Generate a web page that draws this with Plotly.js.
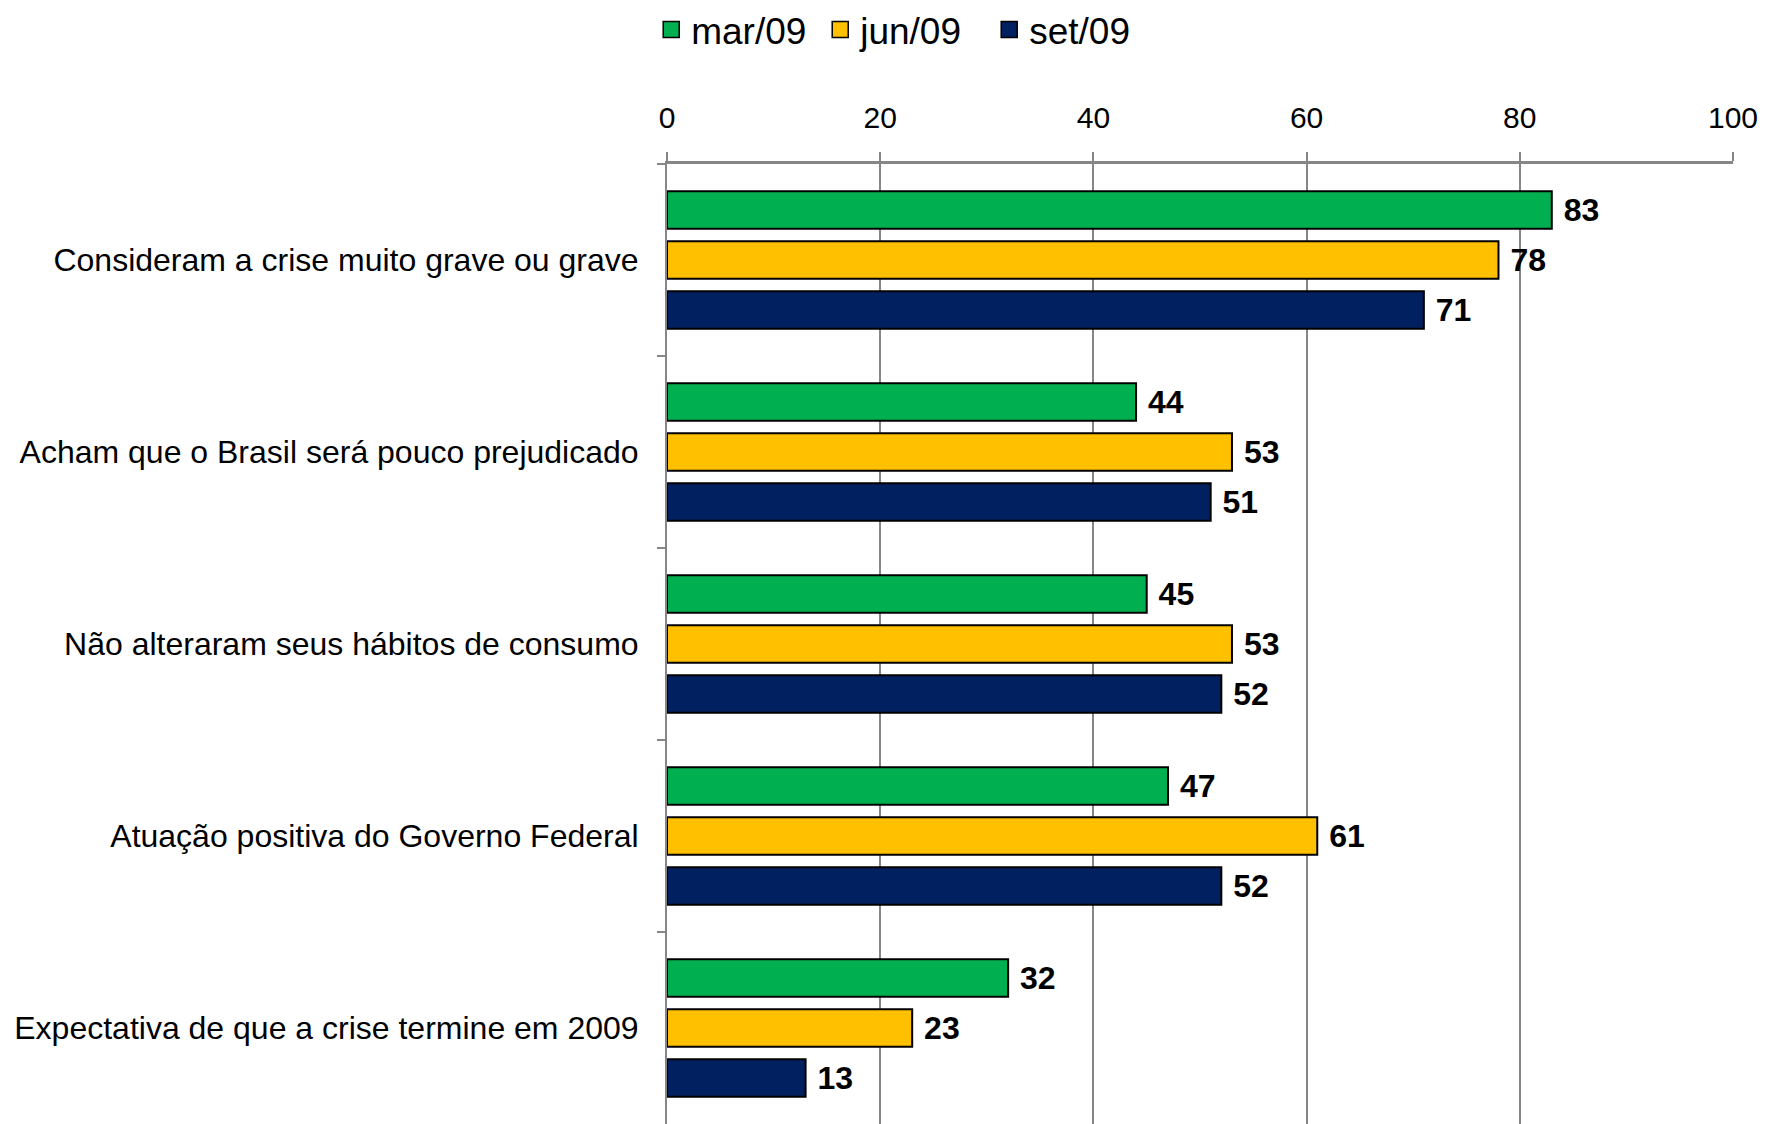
<!DOCTYPE html>
<html>
<head>
<meta charset="utf-8">
<script src="https://cdn.plot.ly/plotly-3.0.1.min.js"></script>
<style>html,body{margin:0;padding:0;background:#fff;}</style>
</head>
<body>
<div id="chart" style="width:1765px;height:1124px;"></div>
<script>
const categories = [
  "Consideram a crise muito grave ou grave",
  "Acham que o Brasil será pouco prejudicado",
  "Não alteraram seus hábitos de consumo",
  "Atuação positiva do Governo Federal",
  "Expectativa de que a crise termine em 2009"
];
const seriesNames = ["mar/09", "jun/09", "set/09"];
const mar09 = [83, 44, 45, 47, 32];
const jun09 = [78, 53, 53, 61, 23];
const set09 = [71, 51, 52, 52, 13];
const xTicks = [0, 20, 40, 60, 80, 100];

const FONT = '"Liberation Sans", Arial, sans-serif';
const colors = ["#00B050", "#FFC000", "#002060"];
const values = [mar09, jun09, set09];

const traces = values.map((v, i) => ({
  type: 'bar',
  orientation: 'h',
  name: seriesNames[i],
  x: v,
  y: categories,
  showlegend: false,
  marker: {color: colors[i], line: {color: '#000000', width: 2}},
  texttemplate: '\u00a0%{x}',
  textposition: 'outside',
  constraintext: 'none',
  cliponaxis: false,
  textfont: {family: FONT, size: 32, color: '#000000', weight: 'bold'},
  hoverinfo: 'skip'
}));

// legend-only entries (no visible points) to get larger legend squares
seriesNames.forEach((n, i) => {
  traces.push({
    type: 'scatter',
    mode: 'markers',
    name: n,
    x: [null],
    y: [null],
    showlegend: true,
    marker: {symbol: 'square', size: 20, color: colors[i], line: {color: '#000000', width: 1.5}},
    hoverinfo: 'skip'
  });
});

const layout = {
  width: 1765,
  height: 1124,
  margin: {l: 667, r: 32, t: 164, b: 0},
  paper_bgcolor: '#ffffff',
  plot_bgcolor: '#ffffff',
  barmode: 'group',
  bargap: 0.22,
  bargroupgap: 0.25,
  font: {family: FONT, color: '#000000', size: 30},
  showlegend: true,
  legend: {
    orientation: 'h',
    x: 0.223, xanchor: 'center',
    y: 1 - 30/1124, yref: 'container', yanchor: 'middle',
    font: {family: FONT, size: 37, color: '#000000'},
    itemwidth: 30,
    itemsizing: 'trace',
    entrywidth: 124,
    tracegroupgap: 0,
    traceorder: 'normal'
  },
  xaxis: {
    side: 'top',
    range: [0, 100],
    tickvals: xTicks,
    ticktext: xTicks.map(String),
    showgrid: true,
    gridcolor: '#868686',
    gridwidth: 2,
    zeroline: false,
    showline: true,
    linecolor: '#868686',
    linewidth: 3,
    ticks: 'outside',
    ticklen: 9,
    tickwidth: 2,
    tickcolor: '#868686',
    tickfont: {family: FONT, size: 30, color: '#000000'},
    ticklabelstandoff: 12,
    fixedrange: true
  },
  yaxis: {
    type: 'category',
    autorange: 'reversed',
    showline: true,
    linecolor: '#868686',
    linewidth: 2,
    ticks: 'outside',
    tickson: 'boundaries',
    ticklen: 8,
    tickwidth: 2,
    tickcolor: '#868686',
    showgrid: false,
    tickfont: {family: FONT, size: 32, color: '#000000'},
    ticklabelstandoff: 20,
    fixedrange: true
  }
};

Plotly.newPlot('chart', traces, layout, {displayModeBar: false, staticPlot: true});
</script>
</body>
</html>
